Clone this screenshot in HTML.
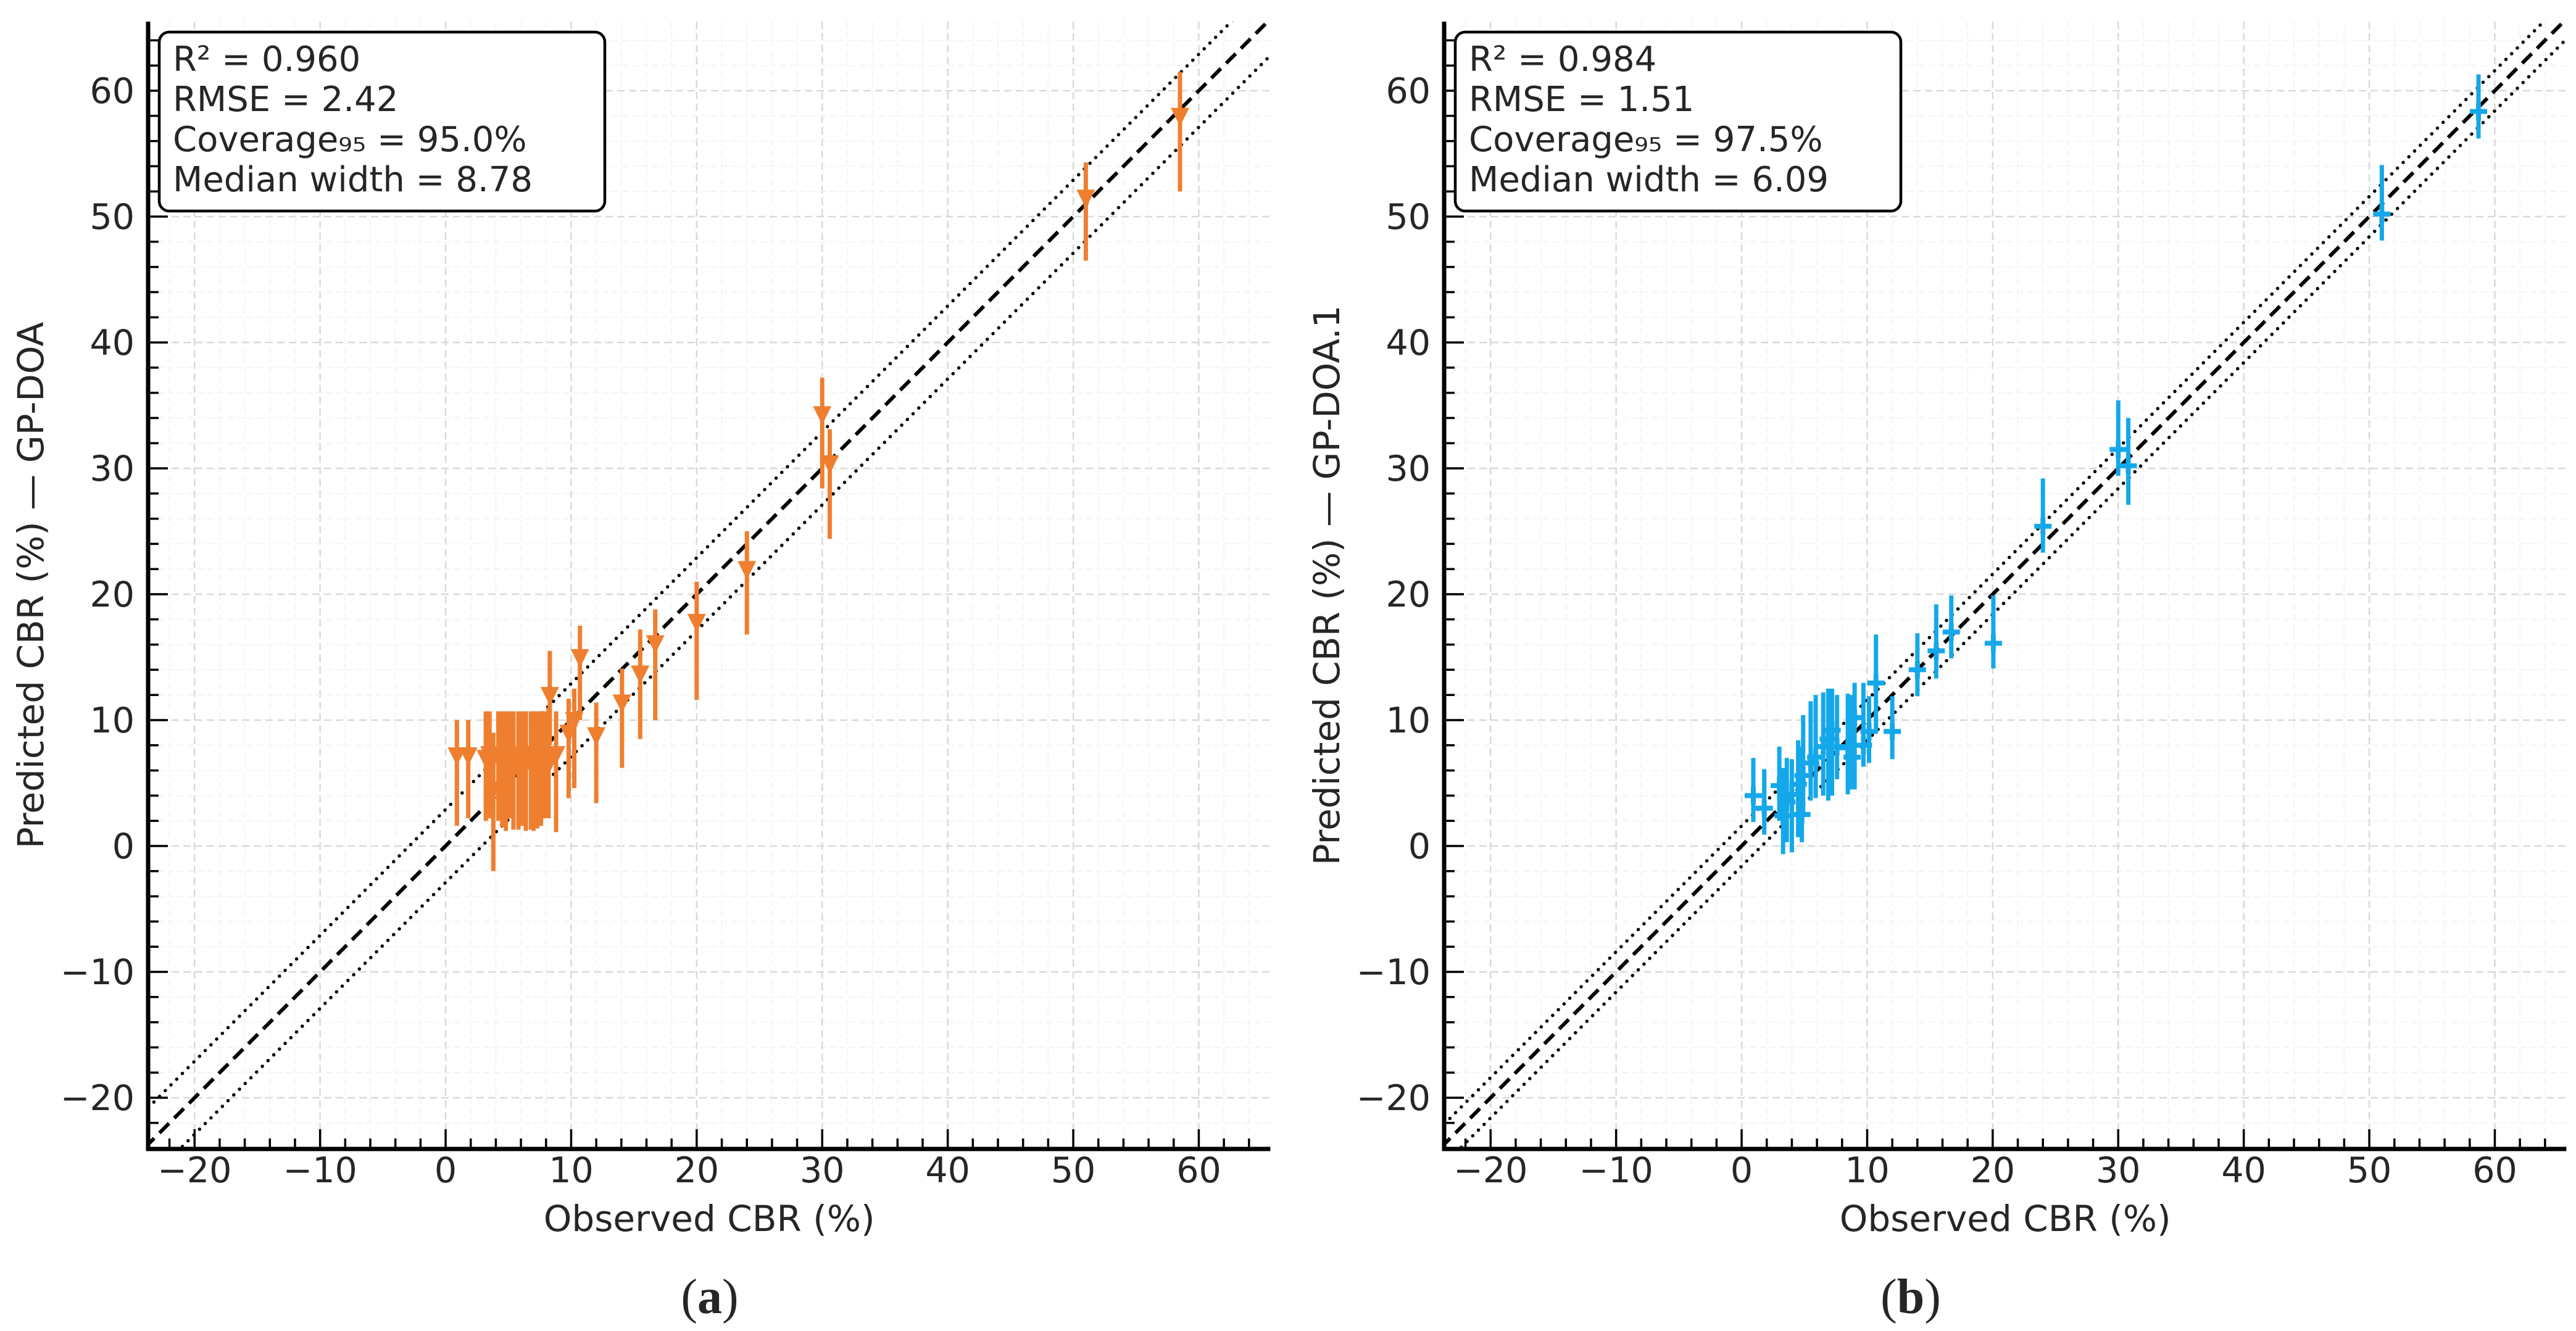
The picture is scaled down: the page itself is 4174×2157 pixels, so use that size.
<!DOCTYPE html>
<html><head><meta charset="utf-8">
<style>
html,body{margin:0;padding:0;background:#fff;}
svg{display:block;}
text{font-family:"DejaVu Sans","Liberation Sans",sans-serif;fill:#262626;}
</style></head>
<body>
<svg id="fig" width="4174" height="2157" viewBox="0 0 4174 2157" xmlns="http://www.w3.org/2000/svg"></svg>
<script>
// ---- Panel (a) data: GP-DOA ----
const obsA = [0.9,1.8,3.2,3.5,3.8,4.2,4.5,4.8,5.1,5.4,5.8,6.1,6.4,6.8,7.0,7.3,7.6,7.9,8.2,8.3,8.8,9.8,10.25,10.7,12.0,14.05,15.5,16.7,20.0,24.0,30.0,30.6,51.0,58.5];
const predA = [7.2,7.2,7.0,7.3,4.5,7.0,6.8,7.1,5.5,7.0,6.2,7.3,7.0,6.5,7.2,6.0,7.0,6.8,6.5,12.0,7.3,9.0,10.0,15.0,8.8,11.4,13.7,16.1,17.8,22.0,34.3,30.4,51.5,58.0];
const loA = [1.6,2.2,2.0,2.2,-2.0,2.0,1.5,1.2,2.2,1.3,1.3,1.6,1.2,1.3,1.2,1.4,1.6,2.2,2.2,8.0,1.1,3.8,4.6,10.0,3.4,6.2,8.5,10.0,11.6,16.8,28.4,24.4,46.5,52.0];
const hiA = [10.0,10.0,10.7,10.7,9.0,10.7,10.7,10.7,10.7,10.7,10.7,10.7,10.7,10.7,10.7,10.7,10.7,10.7,11.0,15.5,10.7,11.7,12.5,17.5,11.4,14.1,17.2,18.8,21.0,25.0,37.2,33.1,54.3,61.5];
// ---- Panel (b) data: GP-DOA.1 ----
const obsB = [0.93,1.8,3.0,3.3,3.6,4.0,4.5,4.8,4.9,5.5,5.9,6.5,6.9,7.2,7.6,8.46,8.8,9.0,9.7,10.15,10.7,12.0,14.0,15.5,16.7,20.05,24.0,30.0,30.8,51.0,58.7];
const predB = [4.0,3.0,4.8,2.4,3.5,4.1,4.9,2.5,5.6,6.6,7.05,7.9,8.5,9.2,7.9,7.8,7.05,10.2,8.0,9.1,12.95,9.1,14.0,15.5,17.0,16.1,25.4,31.5,30.2,50.2,58.35];
const loB = [1.9,0.9,2.0,-0.65,0.3,-0.5,0.7,0.3,2.5,3.6,3.8,4.0,3.6,4.0,5.3,4.1,4.5,4.5,6.3,6.6,9.0,6.9,11.9,13.3,14.9,14.1,23.3,29.4,27.1,48.1,56.2];
const hiB = [7.0,6.1,7.9,6.2,7.0,6.9,8.4,7.9,10.4,11.5,12.0,12.2,12.5,12.5,12.0,12.1,12.0,12.96,12.96,11.9,16.8,11.9,16.9,19.2,19.9,19.9,29.2,35.4,34.0,54.1,61.3];
const statsA = ["R² = 0.960","RMSE = 2.42","Coverage₉₅ = 95.0%","Median width = 8.78"];
const statsB = ["R² = 0.984","RMSE = 1.51","Coverage₉₅ = 97.5%","Median width = 6.09"];
const majorTicks = [-20,-10,0,10,20,30,40,50,60];
const bandA = 2.9;
const bandB = 1.6;

const NS = "http://www.w3.org/2000/svg";
const svg = document.getElementById('fig');
function mk(tag, attrs, parent){
  const e = document.createElementNS(NS, tag);
  for (const k in attrs) e.setAttribute(k, attrs[k]);
  (parent||svg).appendChild(e);
  return e;
}
const XMIN=-23.7, XMAX=65.7;
const SX=20.34, SY=20.4, Y0=1371, TOP=35, BOT=1862;

function panel(id, left, obs, pred, lo, hi, band, color, marker, stats, ylabel, caption, capX){
  const g = mk('g', {});
  
  
  const right = left + (XMAX-XMIN)*SX;
  const xs = v => left + (v-XMIN)*SX;
  const ys = v => Y0 - v*SY;
  const clip = mk('clipPath', {id:'clip'+id}, g);
  mk('rect', {x:left, y:TOP, width:right-left, height:BOT-TOP}, clip);
  const grid = mk('g', {}, g);
  
  
  for (let v=-22; v<=64; v+=2){
    const major = v%10===0;
    const st = major ? {stroke:'#d9d9d9','stroke-width':2.5,'stroke-dasharray':'12,7'} : {stroke:'#f1f1f1','stroke-width':1.5,'stroke-dasharray':'10,6'};
    const x = xs(v);
    if (x>left && x<right) mk('line', Object.assign({x1:x,x2:x,y1:TOP,y2:BOT}, st), grid);
    const y = ys(v);
    if (y>TOP && y<BOT) mk('line', Object.assign({x1:left,x2:right,y1:y,y2:y}, st), grid);
  }
  const lines = mk('g', {'clip-path':'url(#clip'+id+')'}, g);
  const idl = mk('line', {x1:xs(XMIN-5),y1:ys(XMIN-5),x2:xs(XMAX+5),y2:ys(XMAX+5),stroke:'#000','stroke-width':6,'stroke-dasharray':'22,12'}, lines);
  
  
  [band,-band].forEach(b=>{
    const l = mk('line', {x1:xs(XMIN-5),y1:ys(XMIN-5+b),x2:xs(XMAX+5),y2:ys(XMAX+5+b),stroke:'#000','stroke-width':5.5,'stroke-dasharray':'0.1,13','stroke-linecap':'round'}, lines);
    
    
  });
  const pts = mk('g', {'clip-path':'url(#clip'+id+')'}, g);
  for (let i=0;i<obs.length;i++){
    const x = xs(obs[i]), y = ys(pred[i]);
    const eb = mk('line', {x1:x,x2:x,y1:ys(lo[i]),y2:ys(hi[i]),stroke:color,'stroke-width':7}, pts);
    
    
    let m;
    if (marker==='tri'){
      m = mk('polygon', {points:`${x-15},${y-13} ${x+15},${y-13} ${x},${y+17}`, fill:color}, pts);
    } else {
      m = mk('path', {d:`M${x-14},${y}H${x+14}M${x},${y-14}V${y+14}`, stroke:color,'stroke-width':8,fill:'none'}, pts);
    }
    
    
  }
  const ax = mk('g', {}, g);
  
  
  mk('line', {x1:left,x2:left,y1:TOP,y2:BOT+3,stroke:'#000','stroke-width':7}, ax);
  mk('line', {x1:left-3,x2:right,y1:BOT,y2:BOT,stroke:'#000','stroke-width':7}, ax);
  for (let v=-22; v<=64; v+=2){
    const major = v%10===0, L = major?32:17;
    const x = xs(v);
    if (x>left+2 && x<right) mk('line', {x1:x,x2:x,y1:BOT,y2:BOT-L,stroke:'#000','stroke-width':3.5}, ax);
    const y = ys(v);
    if (y>TOP && y<BOT-2) mk('line', {x1:left,x2:left+L,y1:y,y2:y,stroke:'#000','stroke-width':3.5}, ax);
  }
  majorTicks.forEach(v=>{
    const tx = mk('text', {x:xs(v), y:1916, 'font-size':57, 'text-anchor':'middle'}, ax);
    tx.textContent = v<0 ? '\u2212'+Math.abs(v) : String(v);
    
    
    const ty = mk('text', {x:left-22, y:ys(v)+20, 'font-size':57, 'text-anchor':'end'}, ax);
    ty.textContent = v<0 ? '\u2212'+Math.abs(v) : String(v);
    
    
  });
  const xl = mk('text', {x:(left+right)/2, y:1995, 'font-size':58, 'text-anchor':'middle'}, g);
  xl.textContent = 'Observed CBR (%)';
  
  
  const yx = left-170, yy = (TOP+BOT)/2;
  const yl = mk('text', {x:yx, y:yy, 'font-size':58, 'text-anchor':'middle', transform:`rotate(-90 ${yx} ${yy})`}, g);
  yl.textContent = ylabel;
  
  
  const box = mk('g', {}, g);
  
  
  mk('rect', {x:left+18, y:52, width:722, height:290, rx:16, fill:'#fff', stroke:'#000','stroke-width':4.5}, box);
  stats.forEach((s,i)=>{
    const t = mk('text', {x:left+40, y:115+i*65, 'font-size':56, fill:'#333'}, box);
    t.textContent = s;
    
    
  });
  const cap = mk('text', {x:capX, y:2128, 'font-size':80, 'text-anchor':'middle', style:'font-family:"Liberation Serif",serif'}, g);
  cap.innerHTML = '(<tspan font-weight="bold">'+caption+'</tspan>)';
  
  
}
panel('a', 240, obsA, predA, loA, hiA, bandA, '#EF7F2F', 'tri', statsA, 'Predicted CBR (%) \u2014 GP-DOA', 'a', 1150);
panel('b', 2340, obsB, predB, loB, hiB, bandB, '#14A8EA', 'plus', statsB, 'Predicted CBR (%) \u2014 GP-DOA.1', 'b', 3096);
</script>
</body></html>
